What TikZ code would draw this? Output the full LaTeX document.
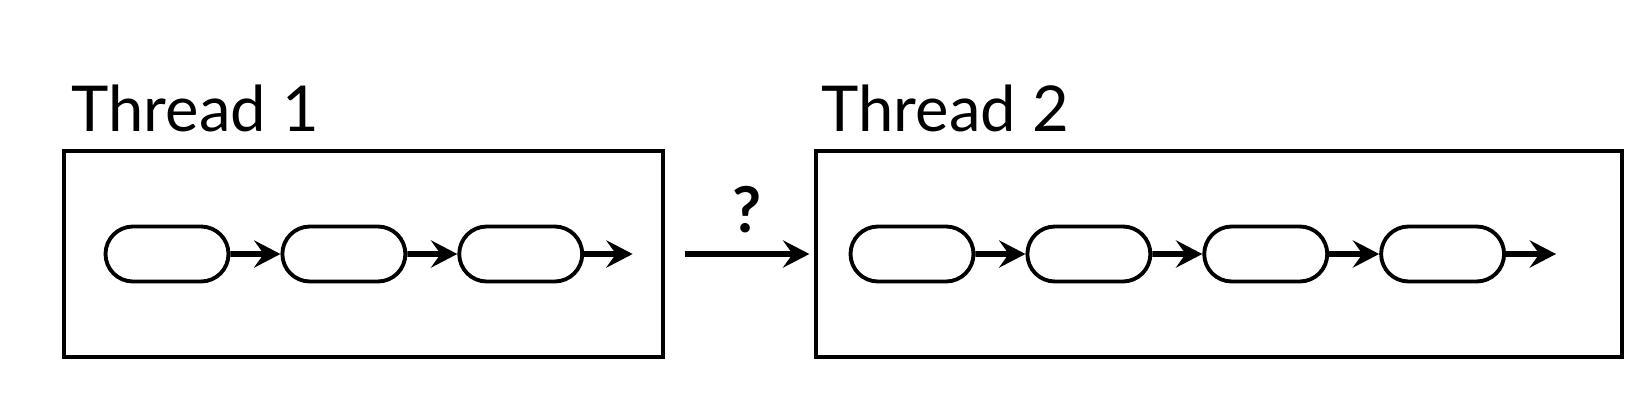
\documentclass[tikz,border=0pt]{standalone}
\usepackage{fontspec}
\setmainfont{Lato}
\usetikzlibrary{positioning,shapes.misc,arrows.meta}

\begin{document}
\begin{tikzpicture}[
  boks/.style={draw, line width=1.9pt, minimum height=4.12cm, inner sep=0pt},
  led/.style={rounded rectangle, draw, line width=2.2pt, minimum width=2.46cm, minimum height=1.1cm, inner sep=0pt},
  pil/.style={line width=3.2pt, -{Stealth[length=15pt, width=15.5pt, inset=5.5pt]}},
  titel/.style={inner sep=0pt, anchor=base west, font=\fontsize{36}{40}\selectfont}]

	\useasboundingbox (0,0) rectangle (32.88,8.36);

  %traad 1
	\node[boks, minimum width=11.98cm] (boks1) at (7.27,3.28) {};
	\node[titel] (titel1) at ([xshift=0.18cm, yshift=0.36cm]boks1.north west) {Thread 1};
	\node[led] (a1) at (3.34,3.28) {};
	\node[led, right=1.0cm of a1] (a2) {};
	\node[led, right=1.0cm of a2] (a3) {};
	\coordinate[right=0.97cm of a3] (a4);
	\draw[pil] (a1) -- (a2);
	\draw[pil] (a2) -- (a3);
	\draw[pil] (a3) -- (a4);

  %traad 2
	\node[boks, minimum width=16.12cm] (boks2) at (24.38,3.28) {};
	\node[titel] (titel2) at ([xshift=0.14cm, yshift=0.36cm]boks2.north west) {Thread 2};
	\node[led] (b1) at (18.24,3.28) {};
	\node[led, right=1.0cm of b1] (b2) {};
	\node[led, right=1.0cm of b2] (b3) {};
	\node[led, right=1.0cm of b3] (b4) {};
	\coordinate[right=1.0cm of b4] (b5);
	\draw[pil] (b1) -- (b2);
	\draw[pil] (b2) -- (b3);
	\draw[pil] (b3) -- (b4);
	\draw[pil] (b4) -- (b5);

  % overgang
	\draw[pil] ([xshift=0.4cm]boks1.east) -- ([xshift=-0.1cm]boks2.west)
		node[midway, above=0.36cm, inner sep=0pt, font=\bfseries\fontsize{36}{40}\selectfont] (spm) {?};

\end{tikzpicture}
\end{document}
